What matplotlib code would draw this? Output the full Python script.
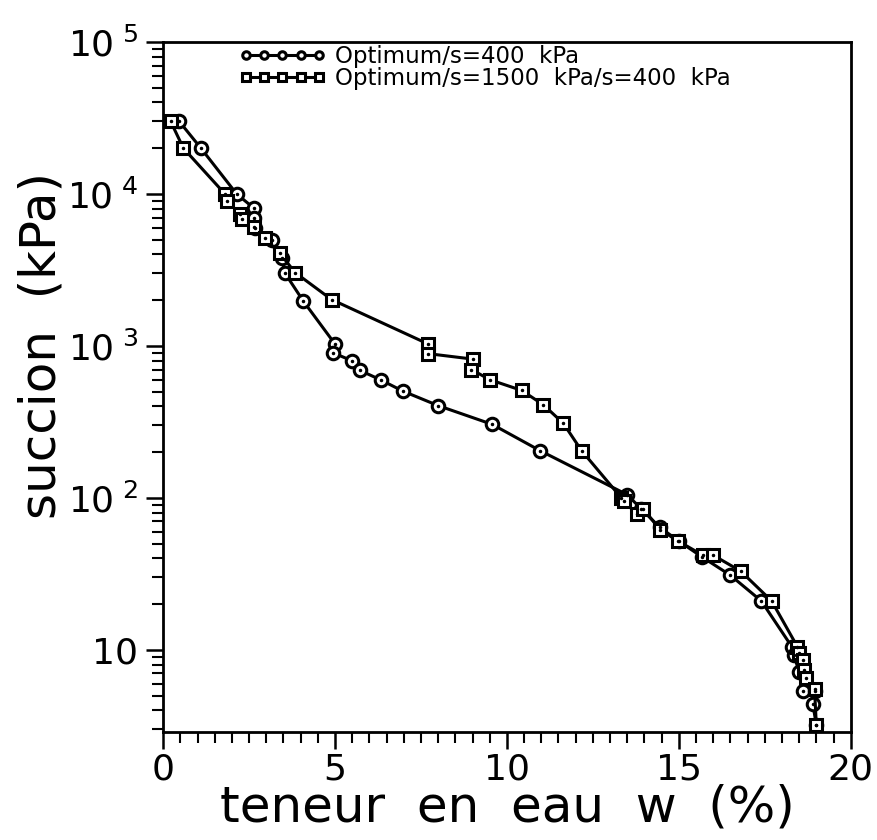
import matplotlib
matplotlib.use("Agg")
import matplotlib.pyplot as plt
from matplotlib.ticker import FixedLocator, LogLocator, NullFormatter, MultipleLocator

plt.rcParams['font.family'] = ['DejaVu Sans']
plt.rcParams['mathtext.fontset'] = 'dejavusans'

# Series 1: Optimum/s=400 kPa (circles)
w_circ = [0.47, 1.1, 2.14, 2.63, 2.63, 2.67, 3.16, 3.45, 3.55, 4.08, 5.0, 4.95,
          5.49, 5.73, 6.35, 6.97, 8.0, 9.57, 10.96, 13.5, 13.9, 14.45, 15.0,
          15.67, 16.5, 17.4, 18.3, 18.35, 18.5, 18.6, 18.95, 18.9, 19.0]
s_circ = [30000, 20000, 10000, 8100, 7000, 6000, 5000, 3800, 3000, 1970, 1030, 900,
          800, 690, 595, 505, 405, 305, 205, 105, 85, 64, 52,
          41, 31, 21, 10.4, 9.2, 7.2, 5.4, 5.4, 4.4, 3.2]

# Series 2: Optimum/s=1500 kPa/s=400 kPa (squares)
w_sq = [0.22, 0.59, 1.80, 1.85, 2.24, 2.29, 2.63, 2.97, 3.40, 3.84, 4.9, 7.71,
        7.71, 9.0, 8.97, 9.5, 10.43, 11.06, 11.64, 12.17, 13.33, 13.4, 13.77,
        13.96, 14.45, 14.98, 15.7, 16.0, 16.8, 17.7, 18.45, 18.5, 18.6, 18.65,
        18.7, 18.95, 19.0]
s_sq = [30000, 20000, 10000, 9000, 7400, 6850, 6050, 5100, 4060, 3040, 2020, 1030,
        890, 820, 700, 600, 510, 410, 310, 205, 100, 95, 79,
        85, 62, 52, 42, 42, 33, 21, 10.5, 9.6, 8.6, 7.4,
        6.5, 5.5, 3.2]

ytick_vals = [10, 100, 1000, 10000, 100000]
ytick_labels = ['10', r'$10^{\ 2}$', r'$10^{\ 3}$', r'$10^{\ 4}$', r'$10^{\ 5}$']
xtick_vals = [0, 5, 10, 15, 20]

fig = plt.figure(figsize=(8.77, 8.4), dpi=100)
ax = fig.add_axes([0.186, 0.129, 0.784, 0.821])

ax.plot(w_circ, s_circ, color='black', lw=2.2, marker='o', ms=9,
        mfc='white', mec='black', mew=2.2,
        label='Optimum/s=400  kPa')
ax.plot(w_sq, s_sq, color='black', lw=2.2, marker='s', ms=8.5,
        mfc='white', mec='black', mew=2.2,
        label='Optimum/s=1500  kPa/s=400  kPa')
# central dots of markers
ax.plot(w_circ, s_circ, ls='none', marker='o', ms=1.5, color='black')
ax.plot(w_sq, s_sq, ls='none', marker='o', ms=1.5, color='black')

ax.set_yscale('log')
ax.set_xlim(0, 20)
ax.set_ylim(2.9, 1e5)

ax.yaxis.set_major_locator(FixedLocator(ytick_vals))
ax.set_yticklabels(ytick_labels)
ax.yaxis.set_minor_locator(LogLocator(base=10, subs=range(2, 10), numticks=20))
ax.yaxis.set_minor_formatter(NullFormatter())
ax.set_xticks(xtick_vals)
ax.xaxis.set_minor_locator(MultipleLocator(0.5))

ax.tick_params(axis='both', which='major', direction='out', length=12, width=1.8,
               labelsize=26, top=False, right=False)
ax.tick_params(axis='both', which='minor', direction='out', length=8, width=1.5,
               top=False, right=False)
ax.tick_params(axis='y', which='major', pad=6)
ax.tick_params(axis='x', which='major', pad=3)

for sp in ax.spines.values():
    sp.set_linewidth(2.0)

ax.set_xlabel('teneur  en  eau  w  (%)', fontsize=36, labelpad=-2)
ax.set_ylabel('succion  (kPa)', fontsize=36)
ax.yaxis.set_label_coords(-0.142, 0.56)

leg = ax.legend(loc='upper left', bbox_to_anchor=(0.09, 1.015), frameon=False,
                fontsize=16.5, numpoints=5, handlelength=3.8, handletextpad=0.4,
                labelspacing=-0.08, borderaxespad=0.2, markerscale=0.6)

fig.savefig('out.png', dpi=100)
